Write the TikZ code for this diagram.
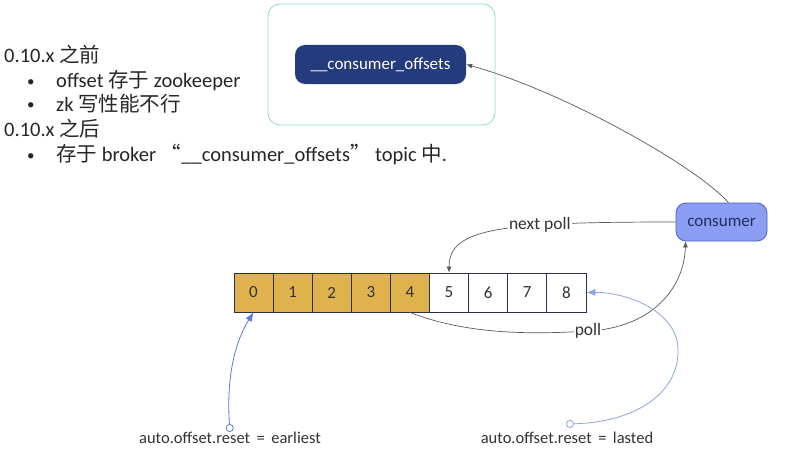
\documentclass[tikz,border=0pt]{standalone}
\usepackage{fontspec}
\setmainfont{Carlito}
\newfontfamily\cjk{Noto Sans CJK SC}
\usetikzlibrary{arrows.meta, positioning}
\definecolor{offsetblue}{HTML}{243B7E}
\definecolor{framecyan}{HTML}{8ADAD2}
\definecolor{consumerblue}{HTML}{8C9EF4}
\definecolor{consumeredge}{HTML}{4D5EC4}
\definecolor{cellgold}{HTML}{E0B24E}
\definecolor{celledge}{HTML}{2E2E4A}
\definecolor{resetblue}{HTML}{5878E0}
\definecolor{resetlight}{HTML}{8FA2E6}

\begin{document}
\begin{tikzpicture}[x=1pt, y=-1pt,
    cell/.style={draw=celledge, line width=0.8pt, minimum width=39.1pt, minimum height=39pt, inner sep=0pt, font=\fontsize{17}{18}\selectfont, text=black!80},
    flow/.style={draw=black!65, line width=0.7pt, -{Latex[length=6pt,width=5pt]}},
    reset/.style={line width=0.8pt, {Circle[open,length=8pt,width=8pt,fill=white]}-{Latex[length=9pt,width=7pt]}},
    lbl/.style={fill=white, inner sep=1pt, font=\fontsize{17.5}{20}\selectfont, text=black!80},
    note/.style={anchor=base west, inner sep=0pt, font=\fontsize{20.5}{24}\selectfont, text=black!85},
    dot/.style={anchor=base west, inner sep=0pt, font=\fontsize{15}{18}\selectfont, text=black!85}]

    \useasboundingbox (0,0) rectangle (787,452);

    % Notes on the left
    \node[note] (before) at (4,63) {0.10.x {\cjk 之前}};
    \node[dot] (bulletA) at (27,86) {•};
    \node[note] (zkstore) at (56,87) {offset {\cjk 存于} zookeeper};
    \node[dot] (bulletB) at (27,110) {•};
    \node[note] (zkslow) at (56,111) {zk {\cjk 写性能不行}};
    \node[note] (after) at (4,136) {0.10.x {\cjk 之后}};
    \node[dot] (bulletC) at (27,160) {•};
    \node[note] (brokerstore) at (56,161) {{\cjk 存于} broker {\cjk “}\_\_consumer\_offsets{\cjk ”} topic {\cjk 中}.};

    % Offsets topic
    \draw[framecyan, line width=0.8pt, rounded corners=12pt] (268,4) rectangle (495,125);
    \node[fill=offsetblue, rounded corners=10pt, minimum width=171pt, minimum height=39pt,
          text=white, font=\fontsize{17}{18}\selectfont] (offsets) at (380.5,64.5) {\_\_consumer\_offsets};

    % Consumer
    \node[fill=consumerblue, draw=consumeredge, line width=0.8pt, rounded corners=10pt,
          minimum width=91pt, minimum height=38pt, text=offsetblue!80!black,
          font=\fontsize{17}{18}\selectfont] (consumer) at (721.5,222) {consumer};

    % Partition cells
    \foreach \i in {0,...,4}
        \node[cell, fill=cellgold] (c\i) at ({253.55+39.1*\i},292.5) {\i};
    \foreach \i in {5,...,8}
        \node[cell, fill=white] (c\i) at ({253.55+39.1*\i},292.5) {\i};

    % Commit and poll arrows
    \draw[flow] ([xshift=7pt]consumer.north) .. controls (695,165) and (560,90) .. (offsets.east);
    \draw[flow] (consumer.west) .. controls (500,222) and (449,228) .. (c5.north)
        node[lbl, pos=0.33] (nextpoll) {next poll};
    \draw[flow] (c4.south) .. controls (470,336) and (540,334) .. (588,331) node[lbl] (poll) {poll}
        .. controls (650,328) and (684,290) .. ([xshift=10pt]consumer.south west);

    % Reset policies
    \node[lbl, inner sep=0pt, font=\fontsize{16.5}{18}\selectfont] (earliest) at (230,438) {auto.offset.reset\, = \,earliest};
    \node[lbl, inner sep=0pt, font=\fontsize{16.5}{18}\selectfont] (lasted) at (567,438) {auto.offset.reset\, = \,lasted};
    \coordinate (lasteddot) at (566,424);

    \draw[reset, resetblue] (earliest.north) .. controls (226,375) and (236,340) .. (c0.south);
    \draw[reset, resetlight] (lasteddot) .. controls (640,422) and (680,390) .. (678,348)
        .. controls (676,310) and (625,292) .. (c8.east);
\end{tikzpicture}
\end{document}
